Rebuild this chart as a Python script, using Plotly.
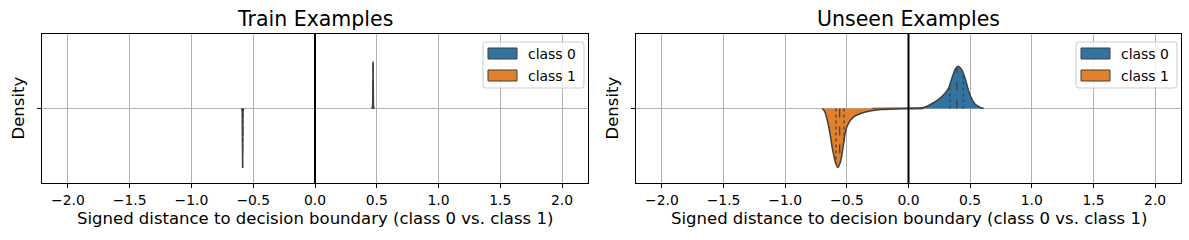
import numpy as np
import plotly.graph_objects as go

# ---------------- data ----------------
# densities are expressed as violin half-widths in category units
train_c0_x = [0.462, 0.467, 0.469, 0.470, 0.471, 0.473, 0.478]
train_c0_h = [0.0, 0.02, 0.20, 0.315, 0.20, 0.02, 0.0]
train_c1_x = [-0.594, -0.589, -0.587, -0.586, -0.585, -0.583, -0.578]
train_c1_h = [0.0, 0.02, 0.25, 0.399, 0.25, 0.02, 0.0]
train_c0_q = [0.469, 0.470, 0.471]
train_c1_q = [-0.587, -0.586, -0.585]

unseen_c0_x = [-0.30, -0.10, 0.05, 0.124, 0.178, 0.233, 0.287, 0.327, 0.354,
               0.381, 0.403, 0.43, 0.462, 0.489, 0.516, 0.543, 0.584, 0.61]
unseen_c0_h = [0.0, 0.002, 0.003, 0.007, 0.027, 0.054, 0.094, 0.141, 0.208,
               0.268, 0.284, 0.262, 0.195, 0.114, 0.060, 0.027, 0.007, 0.0]
unseen_c1_x = [-0.70, -0.681, -0.66, -0.638, -0.616, -0.592, -0.573, -0.551, -0.530,
               -0.511, -0.484, -0.444, -0.389, -0.322, -0.227, -0.10, 0.05, 0.12]
unseen_c1_h = [0.0, 0.018, 0.074, 0.161, 0.275, 0.362, 0.396, 0.356, 0.255,
               0.154, 0.094, 0.056, 0.034, 0.018, 0.007, 0.003, 0.001, 0.0]
unseen_c0_q = [0.335, 0.392, 0.444]
unseen_c1_q = [-0.588, -0.558, -0.523]

classes = ["class 0", "class 1"]
titles = ["Train Examples", "Unseen Examples"]
xtick_vals = [-2.0, -1.5, -1.0, -0.5, 0.0, 0.5, 1.0, 1.5, 2.0]
xtick_text = ["\u22122.0", "\u22121.5", "\u22121.0", "\u22120.5", "0.0", "0.5", "1.0", "1.5", "2.0"]
xlabel = "Signed distance to decision boundary (class 0 vs. class 1)"
ylabel = "Density"

# ---------------- styling ----------------
W, H = 1189, 240
FONT = "DejaVu Sans"
COLORS = ["#3274a1", "#e1812c"]
EDGE = "#3f3f3f"
GRID = "#b0b0b0"

def px_x(p):
    return p / W

def px_y(p):
    return 1 - p / H

def rounded_rect(x0, y0, x1, y1, r):
    # pixel coords (top-left origin) -> paper-coordinate SVG path
    X = lambda v: f"{px_x(v):.6f}"
    Y = lambda v: f"{px_y(v):.6f}"
    return (f"M {X(x0 + r)},{Y(y0)} L {X(x1 - r)},{Y(y0)} Q {X(x1)},{Y(y0)} {X(x1)},{Y(y0 + r)} "
            f"L {X(x1)},{Y(y1 - r)} Q {X(x1)},{Y(y1)} {X(x1 - r)},{Y(y1)} "
            f"L {X(x0 + r)},{Y(y1)} Q {X(x0)},{Y(y1)} {X(x0)},{Y(y1 - r)} "
            f"L {X(x0)},{Y(y0 + r)} Q {X(x0)},{Y(y0)} {X(x0 + r)},{Y(y0)} Z")

panels = [
    dict(x0=42, x1=588,
         data=[(train_c0_x, train_c0_h, train_c0_q, 1), (train_c1_x, train_c1_h, train_c1_q, -1)]),
    dict(x0=636, x1=1181,
         data=[(unseen_c0_x, unseen_c0_h, unseen_c0_q, 1), (unseen_c1_x, unseen_c1_h, unseen_c1_q, -1)]),
]
y_top, y_bot = 34, 183

fig = go.Figure()
layout = dict(
    width=W, height=H, margin=dict(l=0, r=0, t=0, b=0),
    paper_bgcolor="white", plot_bgcolor="white",
    font=dict(family=FONT, color="black", size=14),
    showlegend=False, annotations=[], shapes=[],
)

for i, pan in enumerate(panels):
    sfx = "" if i == 0 else str(i + 1)
    xa, ya = "x" + sfx, "y" + sfx
    for ci, (xs, hs, qs, sgn) in enumerate(pan["data"]):
        ys = [sgn * h for h in hs]
        fig.add_trace(go.Scatter(
            x=xs, y=ys, mode="lines", fill="tozeroy", name=classes[ci],
            fillcolor=COLORS[ci], line=dict(color=EDGE, width=1.5,
                                            shape="spline" if i == 1 else "linear", smoothing=0.6),
            xaxis=xa, yaxis=ya, hoverinfo="skip"))
        for qi, q in enumerate(qs):
            hq = float(np.interp(q, xs, hs))
            fig.add_trace(go.Scatter(
                x=[q, q], y=[0, sgn * hq], mode="lines",
                line=dict(color=EDGE, width=1.2, dash="dash" if qi == 1 else "dot"),
                xaxis=xa, yaxis=ya, hoverinfo="skip"))

    axis_common = dict(showline=True, linecolor="black", linewidth=1, mirror=True,
                       showgrid=True, gridcolor=GRID, gridwidth=1, zeroline=False,
                       ticks="outside", ticklen=4, tickwidth=1, tickcolor="black",
                       tickfont=dict(family=FONT, size=13.9, color="black"))
    layout["xaxis" + sfx] = dict(axis_common, domain=[px_x(pan["x0"]), px_x(pan["x1"])],
                                 range=[-2.21, 2.21], tickvals=xtick_vals, ticktext=xtick_text,
                                 anchor=ya)
    layout["yaxis" + sfx] = dict(axis_common, domain=[px_y(y_bot), px_y(y_top)],
                                 range=[-0.5, 0.5], tickvals=[0], ticktext=[""], anchor=xa)
    # vertical zero line
    layout["shapes"].append(dict(type="line", xref=xa, yref=ya + " domain", x0=0, x1=0, y0=0, y1=1,
                                 line=dict(color="black", width=2)))
    cx = (pan["x0"] + pan["x1"]) / 2
    layout["annotations"].append(dict(text=titles[i], x=px_x(cx), y=px_y(19), xref="paper", yref="paper",
                                      showarrow=False, xanchor="center", yanchor="middle",
                                      font=dict(family=FONT, size=20.5, color="black")))
    layout["annotations"].append(dict(text=xlabel, x=px_x(cx), y=px_y(218), xref="paper", yref="paper",
                                      showarrow=False, xanchor="center", yanchor="middle",
                                      font=dict(family=FONT, size=16.5, color="black")))
    layout["annotations"].append(dict(text=ylabel, x=px_x(pan["x0"] - 24), y=px_y(108.5), xref="paper",
                                      yref="paper", showarrow=False, xanchor="center", yanchor="middle",
                                      textangle=-90, font=dict(family=FONT, size=16.5, color="black")))
    # matplotlib-style legend drawn with shapes + annotations
    lx1 = pan["x1"] - 4
    lx0 = lx1 - 101
    ly0, ly1 = 42, 88
    layout["shapes"].append(dict(type="path", xref="paper", yref="paper", layer="above",
                                 path=rounded_rect(lx0, ly0, lx1, ly1, 3),
                                 fillcolor="rgba(255,255,255,0.8)", line=dict(color="#cccccc", width=1)))
    for ci, name in enumerate(classes):
        py0 = 48 + ci * 22
        layout["shapes"].append(dict(type="rect", xref="paper", yref="paper", layer="above",
                                     x0=px_x(lx0 + 5), x1=px_x(lx0 + 34), y0=px_y(py0), y1=px_y(py0 + 11),
                                     fillcolor=COLORS[ci], line=dict(color=EDGE, width=1)))
        layout["annotations"].append(dict(text=name, x=px_x(lx0 + 43), y=px_y(py0 + 5.5),
                                          xref="paper", yref="paper", showarrow=False,
                                          xanchor="left", yanchor="middle",
                                          font=dict(family=FONT, size=13.9, color="black")))

fig.update_layout(**layout)
fig.write_html("out.html", config={"displayModeBar": False},
               post_script="document.body.style.margin='0px';document.body.style.padding='0px';"
                           "document.body.style.overflow='hidden';")
